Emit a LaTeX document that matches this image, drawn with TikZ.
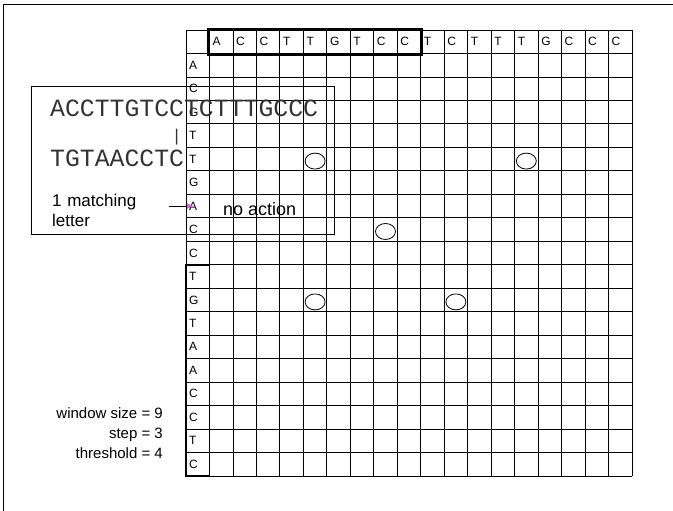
\documentclass[tikz,border=0pt]{standalone}
\usepackage{fontspec}
\setmainfont{Liberation Sans}
\newfontfamily\seqfont{Liberation Mono}
\usepackage{tikz}
\usetikzlibrary{arrows.meta, positioning, calc, shapes.geometric}
\definecolor{cTip}{RGB}{204,102,214}
\newcommand{\cw}{23.47}
\tikzset{
	gridline/.style ={draw=black, line width=0.8pt},
	cell/.style     ={anchor=west, inner sep=0pt, font=\fontsize{12}{14}\selectfont},
	seq/.style      ={anchor=base west, inner sep=0pt, text=black!80, font=\seqfont\fontsize{24.8}{26}\selectfont},
	lbl/.style      ={inner sep=0pt, align=left, font=\fontsize{17}{20}\selectfont},
	hit/.style      ={ellipse, draw=black, line width=0.8pt, minimum width=20pt, minimum height=16pt, inner sep=0pt},
	frame/.style    ={draw=black, line width=1.6pt},
	% pointer from the note to the sequence letter
	ptr/.style      ={-{Triangle[length=6pt, width=5pt, color=cTip]}, line width=0.8pt},
}
\begin{document}
\begin{tikzpicture}[x=1pt, y=-1pt]
	\useasboundingbox (0,0) rectangle (673,511);
	\draw[line width=1pt] (3,511) -- (3,5) -- (673,5);
	% dot plot grid
	\foreach \i in {0,...,19} {
		\draw[gridline] (186+\i*\cw, 30) -- (186+\i*\cw, 30+19*\cw);
		\draw[gridline] (186, 30+\i*\cw) -- (186+19*\cw, 30+\i*\cw);
	}
	\foreach \c [count=\i] in {A,C,C,T,T,G,T,C,C,T,C,T,T,T,G,C,C,C}
		\node[cell] (h\i) at (186+\i*\cw+3, 30+0.5*\cw) {\c};
	\foreach \c [count=\j] in {A,C,G,T,T,G,A,C,C,T,G,T,A,A,C,C,T,C}
		\node[cell] (r\j) at (189, 30+\j*\cw+0.5*\cw) {\c};
	\foreach \i/\j [count=\k] in {5/5, 14/5, 8/8, 5/11, 11/11}
		\node[hit] (m\k) at (186+\i*\cw+0.5*\cw, 30+\j*\cw+0.5*\cw+2) {};
	% windows
	\draw[frame] (208,29) rectangle (186+10*\cw+1.5, 30+\cw+1.5);
	\draw[frame] (186, 30+10*\cw) rectangle (186+\cw, 30+19*\cw);
	% comparison note
	\draw[line width=0.8pt] (31,86) rectangle (334,234);
	\node[seq] (seqa) at (50,117) {ACCTTGTCCTCTTTGCCC};
	\node[seq, anchor=center, font=\seqfont\fontsize{17}{20}\selectfont] (bar) at (176.6,137) {|};
	\node[seq] (seqb) at (50,167) {TGTAACCTC};
	\node[lbl, anchor=north west, text width=117pt] (match) at (52,194) {1 matching\\letter};
	\node[lbl, anchor=base west, font=\fontsize{18}{20}\selectfont] (noact) at (223,215) {no action};
	\draw[ptr] (match.east |- r7.center) -- (r7.center);
	\node[lbl, anchor=north east, align=right, font=\fontsize{15}{20}\selectfont] (params) at (163,407) {window size = 9\\step = 3\\threshold = 4};
\end{tikzpicture}
\end{document}
